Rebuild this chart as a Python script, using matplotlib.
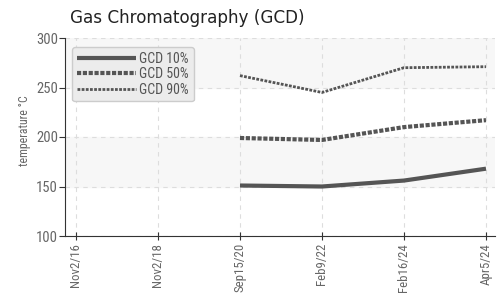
import matplotlib.pyplot as plt

dates = ['Nov2/16', 'Nov2/18', 'Sep15/20', 'Feb9/22', 'Feb16/24', 'Apr5/24']
gcd10 = [None, None, 151, 150, 156, 168]
gcd50 = [None, None, 199, 197, 210, 217]
gcd90 = [None, None, 262, 245, 270, 271]

cond = 'Roboto Condensed'
grey = '#666666'

fig = plt.figure(figsize=(5.03, 2.94), dpi=100)
ax = fig.add_axes([65/503, 1-236/294, 430/503, 198/294])

# alternating bands
ax.axhspan(150, 200, color='#f7f7f7', zorder=0)
ax.axhspan(250, 300, color='#f7f7f7', zorder=0)

x = list(range(len(dates)))
def pts(vals):
    xs = [i for i, v in zip(x, vals) if v is not None]
    ys = [v for v in vals if v is not None]
    return xs, ys

xs, ys = pts(gcd10)
ax.plot(xs, ys, color='#555555', lw=3, label='GCD 10%', solid_capstyle='butt')
xs, ys = pts(gcd50)
ax.plot(xs, ys, color='#555555', lw=3, ls=(0, (1, 0.4)), label='GCD 50%')
xs, ys = pts(gcd90)
ax.plot(xs, ys, color='#555555', lw=2, ls=(0, (1, 0.5)), label='GCD 90%')

ax.set_xlim(-0.134, 5.11)
ax.set_ylim(100, 300)
ax.set_yticks([100, 150, 200, 250, 300])
ax.set_xticks(x)
ax.set_xticklabels(dates, rotation=90, fontfamily=cond, fontsize=9.3, color=grey)
for lab in ax.get_yticklabels():
    lab.set_fontfamily(cond)
    lab.set_fontsize(10.5)
    lab.set_color(grey)

ax.grid(True, ls=(0, (4, 4)), color='#dddddd', lw=0.8)
ax.set_axisbelow(True)
for s in ['top', 'right']:
    ax.spines[s].set_visible(False)
ax.spines['left'].set_color('#333333')
ax.spines['bottom'].set_color('#333333')
ax.tick_params(axis='y', length=4, color='#333333', pad=1)
ax.tick_params(axis='x', direction='inout', length=6, color='#333333', pad=2)

ax.set_ylabel('temperature °C', fontfamily=cond, fontsize=8.5, color=grey, labelpad=0)
ax.yaxis.set_label_coords(-0.078, 0.53)
fig.text(70/503, 1-18/294, 'Gas Chromatography (GCD)', fontsize=12.1, color='#222222', va='center')

leg = ax.legend(loc='upper left', bbox_to_anchor=(0.016, 0.955), prop={'family': cond, 'size': 10},
                fancybox=True, framealpha=1, facecolor='#ececec', edgecolor='#cccccc',
                handlelength=4.3, handletextpad=0.2, labelspacing=0.1, borderpad=0.35,
                borderaxespad=0, labelcolor='#555555')

fig.savefig('out.png', dpi=100)
